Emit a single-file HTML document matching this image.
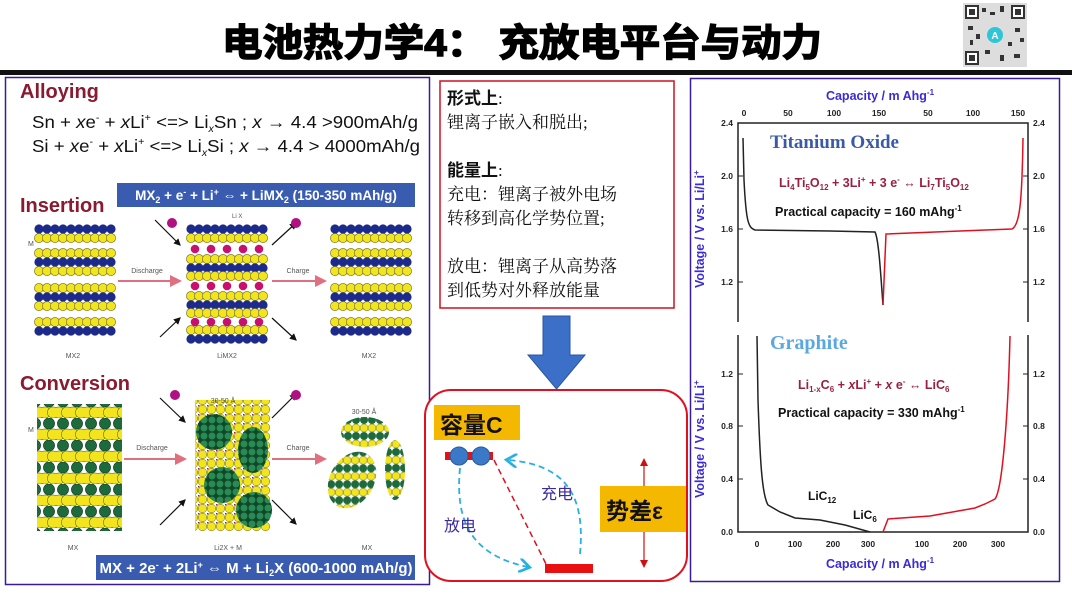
<!DOCTYPE html>
<html><head><meta charset="utf-8"><style>
html,body{margin:0;padding:0;background:#fff;}
svg{display:block;}
.cn{font-family:"Liberation Serif","Noto Serif CJK SC",serif;}
.ss{font-family:"Liberation Sans","Noto Sans CJK SC",sans-serif;}
</style></head><body>
<svg width="1072" height="596" viewBox="0 0 1072 596" xmlns="http://www.w3.org/2000/svg">
<defs>
<g id="yr"><circle cx="4" cy="4" r="4.6" fill="#f2e51e" stroke="#6a6a20" stroke-width=".6"/><circle cx="12" cy="4" r="4.6" fill="#f2e51e" stroke="#6a6a20" stroke-width=".6"/><circle cx="20" cy="4" r="4.6" fill="#f2e51e" stroke="#6a6a20" stroke-width=".6"/><circle cx="28" cy="4" r="4.6" fill="#f2e51e" stroke="#6a6a20" stroke-width=".6"/><circle cx="36" cy="4" r="4.6" fill="#f2e51e" stroke="#6a6a20" stroke-width=".6"/><circle cx="44" cy="4" r="4.6" fill="#f2e51e" stroke="#6a6a20" stroke-width=".6"/><circle cx="52" cy="4" r="4.6" fill="#f2e51e" stroke="#6a6a20" stroke-width=".6"/><circle cx="60" cy="4" r="4.6" fill="#f2e51e" stroke="#6a6a20" stroke-width=".6"/><circle cx="68" cy="4" r="4.6" fill="#f2e51e" stroke="#6a6a20" stroke-width=".6"/><circle cx="76" cy="4" r="4.6" fill="#f2e51e" stroke="#6a6a20" stroke-width=".6"/></g>
<g id="br"><circle cx="4" cy="4" r="4.6" fill="#1c2a8c"/><circle cx="12" cy="4" r="4.6" fill="#1c2a8c"/><circle cx="20" cy="4" r="4.6" fill="#1c2a8c"/><circle cx="28" cy="4" r="4.6" fill="#1c2a8c"/><circle cx="36" cy="4" r="4.6" fill="#1c2a8c"/><circle cx="44" cy="4" r="4.6" fill="#1c2a8c"/><circle cx="52" cy="4" r="4.6" fill="#1c2a8c"/><circle cx="60" cy="4" r="4.6" fill="#1c2a8c"/><circle cx="68" cy="4" r="4.6" fill="#1c2a8c"/><circle cx="76" cy="4" r="4.6" fill="#1c2a8c"/></g>
<g id="mr"><circle cx="8" cy="4" r="4.3" fill="#c8106e"/><circle cx="24" cy="4" r="4.3" fill="#c8106e"/><circle cx="40" cy="4" r="4.3" fill="#c8106e"/><circle cx="56" cy="4" r="4.3" fill="#c8106e"/><circle cx="72" cy="4" r="4.3" fill="#c8106e"/></g>
<g id="stack"><use href="#br" y="0"/><use href="#yr" y="9"/><use href="#yr" y="24"/><use href="#br" y="33"/><use href="#yr" y="42"/><use href="#yr" y="59"/><use href="#br" y="68"/><use href="#yr" y="77"/><use href="#yr" y="93"/><use href="#br" y="102"/></g>
<pattern id="gy" width="14" height="22" patternUnits="userSpaceOnUse"><rect width="14" height="22" fill="#fff"/><circle cx="7" cy="5.5" r="5.6" fill="#1d6b3c" stroke="#0c3a1c" stroke-width=".6"/><circle cx="3" cy="16.5" r="5.6" fill="#f2e51e" stroke="#6a6a20" stroke-width=".6"/><circle cx="11" cy="16.5" r="5.6" fill="#f2e51e" stroke="#6a6a20" stroke-width=".6"/></pattern>
<pattern id="lx" width="9" height="9" patternUnits="userSpaceOnUse"><rect width="9" height="9" fill="#fff"/><circle cx="4.5" cy="4.5" r="4.3" fill="#f2e51e" stroke="#6a6a20" stroke-width=".5"/><circle cx="0" cy="0" r="1.6" fill="#a01a30"/></pattern>
<pattern id="gg" width="8" height="8" patternUnits="userSpaceOnUse"><rect width="8" height="8" fill="#0f4a28"/><circle cx="4" cy="4" r="3.8" fill="#2a8a55" stroke="#0a3a1c" stroke-width=".5"/></pattern>
<pattern id="st" width="8" height="16" patternUnits="userSpaceOnUse" patternTransform="rotate(-30)"><rect width="8" height="16" fill="#fff"/><circle cx="4" cy="4" r="4" fill="#1d6b3c"/><circle cx="4" cy="12" r="4" fill="#f2e51e" stroke="#6a6a20" stroke-width=".5"/></pattern>
<pattern id="st2" width="8" height="16" patternUnits="userSpaceOnUse"><rect width="8" height="16" fill="#fff"/><circle cx="4" cy="4" r="4" fill="#1d6b3c"/><circle cx="4" cy="12" r="4" fill="#f2e51e" stroke="#6a6a20" stroke-width=".5"/></pattern>
<marker id="pa" markerWidth="6" markerHeight="6" refX="5" refY="3" orient="auto"><path d="M0,0 L6,3 L0,6 Z" fill="#e07080"/></marker>
<marker id="ka" markerWidth="6" markerHeight="6" refX="5" refY="3" orient="auto"><path d="M0,0 L6,3 L0,6 Z" fill="#111"/></marker>
<marker id="ca" markerWidth="8" markerHeight="8" refX="5" refY="4" orient="auto"><path d="M0,0 L6,4 L0,8" fill="none" stroke="#28b0e0" stroke-width="1.5"/></marker>
</defs>

<!-- Title -->
<text x="222" y="56" textLength="600" lengthAdjust="spacingAndGlyphs" class="ss" font-size="38" font-weight="bold" fill="#000" stroke="#000" stroke-width="1.4">电池热力学4：  充放电平台与动力</text>
<!-- QR -->
<rect x="963" y="3" width="64" height="64" fill="#ddd"/>
<g fill="#333">
<rect x="965" y="5" width="14" height="14"/><rect x="1011" y="5" width="14" height="14"/><rect x="965" y="51" width="14" height="14"/>
<rect x="982" y="8" width="4" height="4"/><rect x="990" y="12" width="5" height="3"/><rect x="1000" y="6" width="4" height="6"/><rect x="968" y="26" width="5" height="4"/><rect x="976" y="34" width="4" height="5"/><rect x="1015" y="28" width="5" height="4"/><rect x="1008" y="42" width="4" height="4"/><rect x="985" y="50" width="5" height="4"/><rect x="1000" y="55" width="4" height="6"/><rect x="1014" y="54" width="6" height="4"/><rect x="970" y="40" width="3" height="5"/><rect x="1020" y="38" width="4" height="4"/>
</g>
<g fill="#fff"><rect x="967" y="7" width="10" height="10"/><rect x="1013" y="7" width="10" height="10"/><rect x="967" y="53" width="10" height="10"/></g>
<g fill="#333"><rect x="969" y="9" width="6" height="6"/><rect x="1015" y="9" width="6" height="6"/><rect x="969" y="55" width="6" height="6"/></g>
<circle cx="995" cy="35" r="8" fill="#2cc6d8"/>
<text x="995" y="39" text-anchor="middle" class="ss" font-size="10" fill="#fff" font-weight="bold">A</text>
<rect x="0" y="70" width="1072" height="5" fill="#111"/>

<!-- LEFT PANEL -->
<rect x="5.5" y="77.5" width="424" height="507" fill="#fff" stroke="#3a1a9a" stroke-width="1.5"/>
<text x="20" y="98" class="ss" font-size="20" font-weight="bold" fill="#8a1a30">Alloying</text>
<text x="32" y="128" textLength="386" lengthAdjust="spacingAndGlyphs" class="ss" font-size="17.5" fill="#111">Sn + <tspan font-style="italic">x</tspan>e<tspan font-size="10" dy="-7">-</tspan><tspan dy="7"> + </tspan><tspan font-style="italic">x</tspan>Li<tspan font-size="10" dy="-7">+</tspan><tspan dy="7"> &lt;=&gt; Li</tspan><tspan font-size="10" dy="4" font-style="italic">x</tspan><tspan dy="-4">Sn ; </tspan><tspan font-style="italic">x</tspan> → 4.4 &gt;900mAh/g</text>
<text x="32" y="152" textLength="388" lengthAdjust="spacingAndGlyphs" class="ss" font-size="17.5" fill="#111">Si + <tspan font-style="italic">x</tspan>e<tspan font-size="10" dy="-7">-</tspan><tspan dy="7"> + </tspan><tspan font-style="italic">x</tspan>Li<tspan font-size="10" dy="-7">+</tspan><tspan dy="7"> &lt;=&gt; Li</tspan><tspan font-size="10" dy="4" font-style="italic">x</tspan><tspan dy="-4">Si ; </tspan><tspan font-style="italic">x</tspan> → 4.4 &gt; 4000mAh/g</text>

<rect x="117" y="183" width="298" height="24" fill="#3a5cb0"/>
<text x="266" y="200" text-anchor="middle" class="ss" font-size="13.5" font-weight="bold" fill="#fff">MX<tspan font-size="9" dy="3">2</tspan><tspan dy="-3"> + e</tspan><tspan font-size="9" dy="-5">-</tspan><tspan dy="5"> + Li</tspan><tspan font-size="9" dy="-5">+</tspan><tspan dy="5"> ⇔ + LiMX</tspan><tspan font-size="9" dy="3">2</tspan><tspan dy="-3"> (150-350 mAh/g)</tspan></text>
<text x="20" y="212" class="ss" font-size="20" font-weight="bold" fill="#8a1a30">Insertion</text>

<use href="#stack" x="35" y="225"/>
<g><use href="#br" x="187" y="225"/><use href="#yr" x="187" y="234"/><use href="#mr" x="187" y="245"/><use href="#yr" x="187" y="255"/><use href="#br" x="187" y="264"/><use href="#yr" x="187" y="272"/><use href="#mr" x="187" y="282"/><use href="#yr" x="187" y="292"/><use href="#br" x="187" y="301"/><use href="#yr" x="187" y="309"/><use href="#mr" x="187" y="318"/><use href="#yr" x="187" y="326"/><use href="#br" x="187" y="335"/></g>
<use href="#stack" x="331" y="225"/>
<text x="73" y="358" text-anchor="middle" class="ss" font-size="7" fill="#555">MX2</text>
<text x="227" y="358" text-anchor="middle" class="ss" font-size="7" fill="#555">LiMX2</text>
<text x="369" y="358" text-anchor="middle" class="ss" font-size="7" fill="#555">MX2</text>
<text x="28" y="246" class="ss" font-size="7" fill="#555">M</text>
<text x="232" y="218" class="ss" font-size="6" fill="#555">Li   X</text>
<line x1="118" y1="281" x2="180" y2="281" stroke="#e07080" stroke-width="2" marker-end="url(#pa)"/>
<line x1="272" y1="281" x2="325" y2="281" stroke="#e07080" stroke-width="2" marker-end="url(#pa)"/>
<text x="147" y="273" text-anchor="middle" class="ss" font-size="7" fill="#555">Discharge</text>
<text x="298" y="273" text-anchor="middle" class="ss" font-size="7" fill="#555">Charge</text>
<line x1="155" y1="220" x2="180" y2="245" stroke="#111" stroke-width="1.2" marker-end="url(#ka)"/>
<line x1="160" y1="337" x2="180" y2="318" stroke="#111" stroke-width="1.2" marker-end="url(#ka)"/>
<line x1="272" y1="245" x2="296" y2="223" stroke="#111" stroke-width="1.2" marker-end="url(#ka)"/>
<line x1="272" y1="318" x2="296" y2="340" stroke="#111" stroke-width="1.2" marker-end="url(#ka)"/>
<circle cx="172" cy="223" r="5" fill="#b01080"/><circle cx="296" cy="223" r="5" fill="#b01080"/>

<text x="20" y="390" class="ss" font-size="20" font-weight="bold" fill="#8a1a30">Conversion</text>
<rect x="37" y="404" width="85" height="127" fill="url(#gy)"/>
<text x="28" y="432" class="ss" font-size="7" fill="#555">M</text>
<rect x="195" y="400" width="75" height="131" fill="url(#lx)"/>
<circle cx="214" cy="432" r="18" fill="url(#gg)"/>
<ellipse cx="253" cy="450" rx="15" ry="23" fill="url(#gg)"/>
<circle cx="222" cy="485" r="18" fill="url(#gg)"/>
<circle cx="254" cy="510" r="18" fill="url(#gg)"/>
<ellipse cx="365" cy="432" rx="24" ry="15" fill="url(#st2)"/>
<ellipse cx="352" cy="480" rx="22" ry="30" fill="url(#st)" transform="rotate(30 352 480)"/>
<ellipse cx="395" cy="470" rx="10" ry="30" fill="url(#st2)"/>
<text x="223" y="403" text-anchor="middle" class="ss" font-size="7" fill="#555">30-50 Å</text>
<text x="364" y="414" text-anchor="middle" class="ss" font-size="7" fill="#555">30-50 Å</text>
<text x="73" y="550" text-anchor="middle" class="ss" font-size="7" fill="#555">MX</text>
<text x="228" y="550" text-anchor="middle" class="ss" font-size="7" fill="#555">Li2X + M</text>
<text x="367" y="550" text-anchor="middle" class="ss" font-size="7" fill="#555">MX</text>
<line x1="124" y1="459" x2="185" y2="459" stroke="#e07080" stroke-width="2" marker-end="url(#pa)"/>
<line x1="272" y1="459" x2="325" y2="459" stroke="#e07080" stroke-width="2" marker-end="url(#pa)"/>
<text x="152" y="450" text-anchor="middle" class="ss" font-size="7" fill="#555">Discharge</text>
<text x="298" y="450" text-anchor="middle" class="ss" font-size="7" fill="#555">Charge</text>
<line x1="160" y1="398" x2="185" y2="422" stroke="#111" stroke-width="1.2" marker-end="url(#ka)"/>
<line x1="160" y1="525" x2="185" y2="500" stroke="#111" stroke-width="1.2" marker-end="url(#ka)"/>
<line x1="272" y1="418" x2="296" y2="394" stroke="#111" stroke-width="1.2" marker-end="url(#ka)"/>
<line x1="272" y1="500" x2="296" y2="524" stroke="#111" stroke-width="1.2" marker-end="url(#ka)"/>
<circle cx="175" cy="395" r="5" fill="#b01080"/><circle cx="296" cy="395" r="5" fill="#b01080"/>
<rect x="96" y="555" width="319" height="25" fill="#3a5cb0"/>
<text x="256" y="573" text-anchor="middle" class="ss" font-size="15" font-weight="bold" fill="#fff">MX + 2e<tspan font-size="9" dy="-5">-</tspan><tspan dy="5"> + 2Li</tspan><tspan font-size="9" dy="-5">+</tspan><tspan dy="5"> ⇔ M + Li</tspan><tspan font-size="9" dy="3">2</tspan><tspan dy="-3">X (600-1000 mAh/g)</tspan></text>

<!-- MIDDLE -->
<rect x="440" y="81" width="234" height="227" fill="#fff" stroke="#d01020" stroke-width="1.5"/>
<g class="cn" font-size="17" fill="#111">
<text x="447" y="104"><tspan font-weight="bold" font-family="Liberation Sans,Noto Sans CJK SC,sans-serif">形式上</tspan>:</text>
<text x="447" y="128">锂离子嵌入和脱出;</text>
<text x="447" y="176"><tspan font-weight="bold" font-family="Liberation Sans,Noto Sans CJK SC,sans-serif">能量上</tspan>:</text>
<text x="447" y="200">充电：锂离子被外电场</text>
<text x="447" y="224">转移到高化学势位置;</text>
<text x="447" y="272">放电：锂离子从高势落</text>
<text x="447" y="296">到低势对外释放能量</text>
</g>
<path d="M543,316 H570 V355 H585 L556.5,389 L528,355 H543 Z" fill="#3c6fc8" stroke="#2a55a0" stroke-width="1"/>

<rect x="425" y="390" width="262" height="191" rx="26" fill="#fff" stroke="#e01020" stroke-width="2"/>
<rect x="434" y="405" width="86" height="35" fill="#f5b800"/>
<text x="440" y="433" class="ss" font-size="23" font-weight="bold" fill="#111">容量C</text>
<rect x="445" y="452" width="48" height="8" fill="#e81010"/>
<circle cx="459" cy="456" r="9" fill="#3a78c8" stroke="#2a5a9a"/>
<circle cx="481" cy="456" r="9" fill="#3a78c8" stroke="#2a5a9a"/>
<line x1="494" y1="460" x2="546" y2="564" stroke="#e01020" stroke-width="1.5" stroke-dasharray="6,4"/>
<rect x="545" y="564" width="48" height="9" fill="#e81010"/>
<path d="M460,468 C455,520 470,555 528,567" fill="none" stroke="#28b0e0" stroke-width="1.8" stroke-dasharray="6,4" marker-end="url(#ca)"/>
<path d="M580,554 C585,500 570,465 508,460" fill="none" stroke="#28b0e0" stroke-width="1.8" stroke-dasharray="6,4" marker-end="url(#ca)"/>
<text x="444" y="531" class="ss" font-size="16" fill="#3a2aa0">放电</text>
<text x="541" y="499" class="ss" font-size="16" fill="#3a2aa0">充电</text>
<line x1="644" y1="462" x2="644" y2="564" stroke="#d01010" stroke-width="1.2"/>
<path d="M640,466 L644,458 L648,466 Z M640,560 L644,568 L648,560 Z" fill="#d01010"/>
<rect x="600" y="486" width="86" height="46" fill="#f5b800"/>
<text x="606" y="519" class="ss" font-size="23" font-weight="bold" fill="#111">势差ε</text>

<!-- RIGHT PANEL -->
<rect x="690.5" y="78.5" width="369" height="503" fill="#fff" stroke="#3a1a9a" stroke-width="1.5"/>
<g class="ss" font-weight="bold" fill="#3a2ad8">
<text x="880" y="100" text-anchor="middle" font-size="12.5">Capacity / m Ahg<tspan font-size="8" dy="-5">-1</tspan></text>
<text x="880" y="568" text-anchor="middle" font-size="12.5">Capacity / m Ahg<tspan font-size="8" dy="-5">-1</tspan></text>
<text transform="translate(704,288) rotate(-90)" font-size="12.5">Voltage / V vs. Li/Li<tspan font-size="8" dy="-5">+</tspan></text>
<text transform="translate(704,498) rotate(-90)" font-size="12.5">Voltage / V vs. Li/Li<tspan font-size="8" dy="-5">+</tspan></text>
</g>
<g stroke="#222" stroke-width="1.5" fill="none">
<polyline points="738,322 738,123 1028,123 1028,322"/>
<polyline points="738,335 738,532 1028,532 1028,335"/>
</g>
<g stroke="#222" stroke-width="1">
<line x1="738" y1="176" x2="743" y2="176"/><line x1="738" y1="229" x2="743" y2="229"/><line x1="738" y1="282" x2="743" y2="282"/>
<line x1="1028" y1="176" x2="1023" y2="176"/><line x1="1028" y1="229" x2="1023" y2="229"/><line x1="1028" y1="282" x2="1023" y2="282"/>
<line x1="738" y1="374" x2="743" y2="374"/><line x1="738" y1="426" x2="743" y2="426"/><line x1="738" y1="479" x2="743" y2="479"/>
<line x1="1028" y1="374" x2="1023" y2="374"/><line x1="1028" y1="426" x2="1023" y2="426"/><line x1="1028" y1="479" x2="1023" y2="479"/>
</g>
<g class="ss" font-size="8.5" font-weight="bold" fill="#222">
<text x="733" y="126" text-anchor="end">2.4</text><text x="733" y="179" text-anchor="end">2.0</text><text x="733" y="232" text-anchor="end">1.6</text><text x="733" y="285" text-anchor="end">1.2</text>
<text x="1033" y="126">2.4</text><text x="1033" y="179">2.0</text><text x="1033" y="232">1.6</text><text x="1033" y="285">1.2</text>
<text x="733" y="377" text-anchor="end">1.2</text><text x="733" y="429" text-anchor="end">0.8</text><text x="733" y="482" text-anchor="end">0.4</text><text x="733" y="535" text-anchor="end">0.0</text>
<text x="1033" y="377">1.2</text><text x="1033" y="429">0.8</text><text x="1033" y="482">0.4</text><text x="1033" y="535">0.0</text>
<g text-anchor="middle">
<text x="744" y="116">0</text><text x="788" y="116">50</text><text x="834" y="116">100</text><text x="879" y="116">150</text><text x="928" y="116">50</text><text x="973" y="116">100</text><text x="1018" y="116">150</text>
<text x="757" y="547">0</text><text x="795" y="547">100</text><text x="833" y="547">200</text><text x="868" y="547">300</text><text x="922" y="547">100</text><text x="960" y="547">200</text><text x="998" y="547">300</text>
</g></g>
<text x="770" y="148" class="cn" font-size="19" font-weight="bold" fill="#3a5aa8">Titanium Oxide</text>
<text x="770" y="349" class="cn" font-size="20" font-weight="bold" fill="#5aa8e0">Graphite</text>
<text x="779" y="187" class="ss" font-size="12.5" font-weight="bold" fill="#9a2040">Li<tspan font-size="8" dy="3">4</tspan><tspan dy="-3">Ti</tspan><tspan font-size="8" dy="3">5</tspan><tspan dy="-3">O</tspan><tspan font-size="8" dy="3">12</tspan><tspan dy="-3"> + 3Li</tspan><tspan font-size="8" dy="-5">+</tspan><tspan dy="5"> + 3 e</tspan><tspan font-size="8" dy="-5">-</tspan><tspan dy="5"> ↔ Li</tspan><tspan font-size="8" dy="3">7</tspan><tspan dy="-3">Ti</tspan><tspan font-size="8" dy="3">5</tspan><tspan dy="-3">O</tspan><tspan font-size="8" dy="3">12</tspan></text>
<text x="775" y="216" class="ss" font-size="12.5" font-weight="bold" fill="#111">Practical capacity = 160 mAhg<tspan font-size="8" dy="-5">-1</tspan></text>
<text x="798" y="389" class="ss" font-size="12.5" font-weight="bold" fill="#9a2040">Li<tspan font-size="8" dy="3">1-x</tspan><tspan dy="-3">C</tspan><tspan font-size="8" dy="3">6</tspan><tspan dy="-3">   + </tspan><tspan font-style="italic">x</tspan>Li<tspan font-size="8" dy="-5">+</tspan><tspan dy="5"> + </tspan><tspan font-style="italic">x</tspan> e<tspan font-size="8" dy="-5">-</tspan><tspan dy="5"> ↔ LiC</tspan><tspan font-size="8" dy="3">6</tspan></text>
<text x="778" y="417" class="ss" font-size="12.5" font-weight="bold" fill="#111">Practical capacity = 330 mAhg<tspan font-size="8" dy="-5">-1</tspan></text>
<text x="808" y="500" class="ss" font-size="12" font-weight="bold" fill="#111">LiC<tspan font-size="8" dy="3">12</tspan></text>
<text x="853" y="519" class="ss" font-size="12" font-weight="bold" fill="#111">LiC<tspan font-size="8" dy="3">6</tspan></text>
<g fill="none" stroke-width="1.5">
<path d="M743,138 L744,180 C746,220 748,228 755,230 L830,231 L875,232 C879,240 881,280 883,305" stroke="#222"/>
<path d="M883,305 L886,234 L960,231 L1012,229 C1020,225 1022,200 1023,138" stroke="#e01020"/>
<path d="M757,336 L758,400 C760,460 762,495 768,505 L780,512 L795,518 L820,520 L845,525 L870,532" stroke="#222"/>
<path d="M883,532 L888,519 L930,516 L975,508 L985,504 L995,499 C1002,490 1008,420 1010,336" stroke="#e01020"/>
</g>
</svg>
</body></html>
